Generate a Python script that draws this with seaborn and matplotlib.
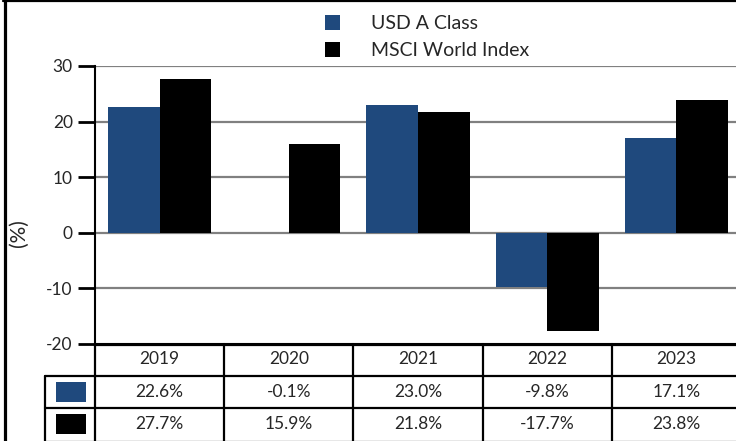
import matplotlib
matplotlib.use("Agg")
import matplotlib.pyplot as plt
from matplotlib.patches import Patch, Rectangle
from matplotlib.lines import Line2D
import seaborn as sns
import pandas as pd

years = ["2019", "2020", "2021", "2022", "2023"]
series = ["USD A Class", "MSCI World Index"]
usd_a = [22.6, -0.1, 23.0, -9.8, 17.1]
msci = [27.7, 15.9, 21.8, -17.7, 23.8]
colors = ["#1f497d", "#000000"]
yticks = [-20, -10, 0, 10, 20, 30]

df = pd.DataFrame({
    "year": years * 2,
    "series": [series[0]] * len(years) + [series[1]] * len(years),
    "value": usd_a + msci,
})

sns.set_theme(style="white")
plt.rcParams['font.family'] = ['Lato', 'DejaVu Sans']

W, H = 736, 441
fig = plt.figure(figsize=(W / 100, H / 100), dpi=100)


def px(x0, y0, x1, y1):
    return [x0 / W, 1 - y1 / H, (x1 - x0) / W, (y1 - y0) / H]


ax = fig.add_axes(px(95, 66, 741, 344))
sns.barplot(data=df, x="year", y="value", hue="series", palette=colors,
            width=0.8, saturation=1, ax=ax, legend=False, zorder=3,
            linewidth=0, edgecolor="none")
ax.set_ylim(-20, 30)
ax.set_xlim(-0.5, 4.5)
ax.set_yticks(yticks)
ax.set_yticklabels([str(t) for t in yticks])
for y in yticks[1:]:
    ax.axhline(y, color="#808080", lw=1.6, zorder=1)
for s in ["top", "right"]:
    ax.spines[s].set_visible(False)
ax.spines["left"].set_color("black")
ax.spines["left"].set_linewidth(1.5)
ax.spines["bottom"].set_color("black")
ax.spines["bottom"].set_linewidth(1.5)
ax.tick_params(axis="y", direction="out", length=12, width=2, color="black",
               labelsize=12.5, pad=4, left=True)
ax.tick_params(axis="x", bottom=False, labelbottom=False)
ax.set_xlabel("")
ax.set_ylabel("")
fig.text(19 / W, 1 - 233 / H, "(%)", rotation=90, ha="center", va="center",
         fontsize=15)

# legend
handles = [Patch(facecolor=c, edgecolor="none", label=s) for s, c in zip(series, colors)]
fig.legend(handles=handles, loc="upper left", bbox_to_anchor=(311 / W, 1 - 1 / H),
           frameon=False, fontsize=14, handlelength=0.8, handleheight=0.85,
           handletextpad=1.6, labelspacing=0.5, borderpad=0.2)

# table
cw = (741 - 95) / 5.0
lab_w = (95 - 45) / cw
tax = fig.add_axes(px(45, 344, 741, 441))
x0 = -0.5 - lab_w
tax.set_xlim(x0, 4.5)
tax.set_ylim(97, 0)
tax.axis("off")
lw = 1.6
tax.add_line(Line2D([-0.5, 4.5], [0.5, 0.5], color="black", lw=lw, clip_on=False))
for yy in [32, 64]:
    tax.add_line(Line2D([x0, 4.5], [yy, yy], color="black", lw=lw, clip_on=False))
tax.add_line(Line2D([x0, 4.5], [96.5, 96.5], color="#888888", lw=1.0, clip_on=False))
for i in range(len(years)):
    tax.add_line(Line2D([i - 0.5, i - 0.5], [0, 97], color="black", lw=lw, clip_on=False))
tax.add_line(Line2D([x0, x0], [32, 97], color="black", lw=lw, clip_on=False))
for i, yr in enumerate(years):
    tax.text(i, 15, yr, ha="center", va="center", fontsize=12.5)
for r, (vals, c) in enumerate(zip([usd_a, msci], colors)):
    yc = 48 + 32 * r
    for i, v in enumerate(vals):
        tax.text(i, yc, f"{v:.1f}%", ha="center", va="center", fontsize=12.5)
    tax.add_patch(Rectangle((x0 + 11 / cw, yc - 10), 30 / cw, 20,
                            facecolor=c, edgecolor="none"))

# outer frame (left and top border)
fig.add_artist(Line2D([4.5 / W, 4.5 / W], [0, 1], color="black", lw=2.3,
                      transform=fig.transFigure))
fig.add_artist(Line2D([3 / W, 1], [1 - 1 / H, 1 - 1 / H], color="black", lw=1.6,
                      transform=fig.transFigure))

fig.savefig("out.png", dpi=100)
